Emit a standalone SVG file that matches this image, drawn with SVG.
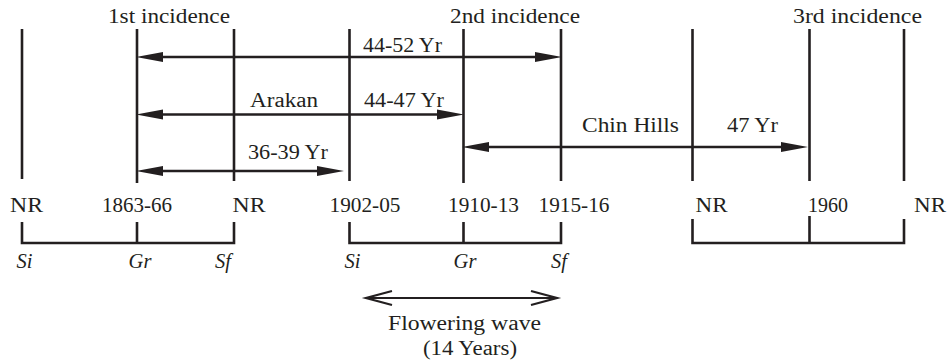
<svg xmlns="http://www.w3.org/2000/svg" width="948" height="363" viewBox="0 0 948 363">
<style>
text{font-family:'Liberation Serif','Times New Roman',Tinos,'Nimbus Roman',serif;font-size:20.5px;fill:#231f20;text-anchor:middle}
.it{font-style:italic}
.v{stroke:#231f20;stroke-width:2.6;fill:none}
.a{stroke:#231f20;stroke-width:2.6;fill:none;marker-start:url(#fh);marker-end:url(#fh)}
.o{stroke:#231f20;stroke-width:2.2;fill:none;marker-start:url(#oh);marker-end:url(#oh)}
</style>
<defs>
<marker id="fh" markerUnits="userSpaceOnUse" markerWidth="28" markerHeight="12" refX="16" refY="6" orient="auto-start-reverse" overflow="visible">
<path d="M0,1 L27,6 L0,11 Z" fill="#231f20"/>
</marker>
<marker id="oh" markerUnits="userSpaceOnUse" markerWidth="28" markerHeight="16" refX="26" refY="8" orient="auto-start-reverse" overflow="visible">
<path d="M0,1 L26,8 L0,15" fill="none" stroke="#231f20" stroke-width="2.2"/>
</marker>
</defs>
<g id="timelines">
<line class="v" x1="22" y1="29" x2="22" y2="179"/>
<line class="v" x1="137" y1="29" x2="137" y2="183"/>
<line class="v" x1="234" y1="29" x2="234" y2="181"/>
<line class="v" x1="349.5" y1="29" x2="349.5" y2="181"/>
<line class="v" x1="463.5" y1="29" x2="463.5" y2="183"/>
<line class="v" x1="561" y1="29" x2="561" y2="181"/>
<line class="v" x1="692.5" y1="29" x2="692.5" y2="181"/>
<line class="v" x1="809.5" y1="29" x2="809.5" y2="181"/>
<line class="v" x1="904" y1="29" x2="904" y2="181"/>
</g>
<g id="titles">
<text x="169" y="23" textLength="122" lengthAdjust="spacingAndGlyphs">1st incidence</text>
<text x="515" y="23" textLength="130" lengthAdjust="spacingAndGlyphs">2nd incidence</text>
<text x="857.5" y="23" textLength="129" lengthAdjust="spacingAndGlyphs">3rd incidence</text>
</g>
<g id="connectors">
<line class="a" x1="147" y1="57" x2="551" y2="57"/>
<line class="a" x1="147" y1="114.5" x2="453" y2="114.5"/>
<line class="a" x1="147" y1="171" x2="333" y2="171"/>
<line class="a" x1="473" y1="147" x2="797" y2="147"/>
<line class="o" x1="366" y1="298" x2="557" y2="298"/>
</g>
<g id="arrow-labels">
<text x="402.5" y="52" textLength="79" lengthAdjust="spacingAndGlyphs">44-52 Yr</text>
<text x="284" y="107" textLength="68" lengthAdjust="spacingAndGlyphs">Arakan</text>
<text x="404" y="107" textLength="80" lengthAdjust="spacingAndGlyphs">44-47 Yr</text>
<text x="288" y="159" textLength="80" lengthAdjust="spacingAndGlyphs">36-39 Yr</text>
<text x="630.5" y="132" textLength="97" lengthAdjust="spacingAndGlyphs">Chin Hills</text>
<text x="752.5" y="132" textLength="51" lengthAdjust="spacingAndGlyphs">47 Yr</text>
</g>
<g id="year-labels">
<text x="26.5" y="212" textLength="33" lengthAdjust="spacingAndGlyphs">NR</text>
<text x="137" y="212" textLength="70" lengthAdjust="spacingAndGlyphs">1863-66</text>
<text x="249" y="212" textLength="33" lengthAdjust="spacingAndGlyphs">NR</text>
<text x="365" y="212" textLength="71" lengthAdjust="spacingAndGlyphs">1902-05</text>
<text x="483.5" y="212" textLength="71" lengthAdjust="spacingAndGlyphs">1910-13</text>
<text x="574" y="212" textLength="71" lengthAdjust="spacingAndGlyphs">1915-16</text>
<text x="711.5" y="212" textLength="32" lengthAdjust="spacingAndGlyphs">NR</text>
<text x="828" y="212" textLength="40" lengthAdjust="spacingAndGlyphs">1960</text>
<text x="930" y="212" textLength="32" lengthAdjust="spacingAndGlyphs">NR</text>
</g>
<g id="bracket-1">
<path class="v" d="M22,222 V243 H234 V222 M137,222 V243"/>
<text class="it" x="24.5" y="268">Si</text>
<text class="it" x="140" y="268">Gr</text>
<text class="it" x="223" y="268">Sf</text>
</g>
<g id="bracket-2">
<path class="v" d="M349.5,222 V243 H561 V222 M463.5,222 V243"/>
<text class="it" x="352.5" y="268">Si</text>
<text class="it" x="465" y="268">Gr</text>
<text class="it" x="559" y="268">Sf</text>
</g>
<g id="bracket-3">
<path class="v" d="M692.5,219 V243 H904 V219 M809.5,216 V243"/>
</g>
<g id="flowering-wave">
<text x="464.5" y="330" textLength="153" lengthAdjust="spacingAndGlyphs">Flowering wave</text>
<text x="470" y="355" textLength="94" lengthAdjust="spacingAndGlyphs">(14 Years)</text>
</g>
</svg>
